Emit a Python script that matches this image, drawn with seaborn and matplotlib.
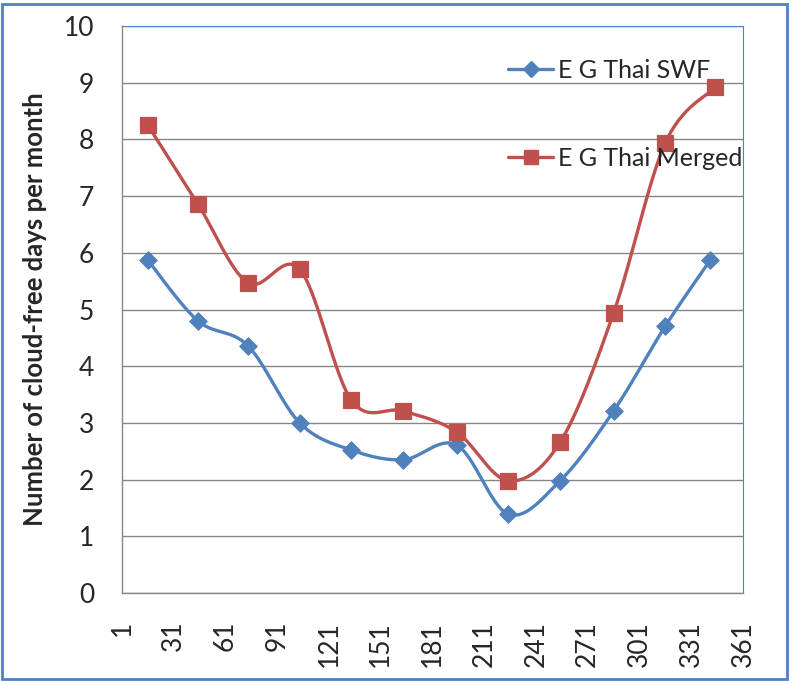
import numpy as np
import pandas as pd
import matplotlib
matplotlib.use("Agg")
import matplotlib.pyplot as plt
import seaborn as sns
from matplotlib.lines import Line2D
from matplotlib.patches import Rectangle

# data (day of year, cloud-free days per month)
swf_day = [16, 45, 74, 104, 134, 164, 195, 225, 255, 286, 316, 342]
swf_val = [5.87, 4.80, 4.36, 3.00, 2.52, 2.35, 2.61, 1.39, 1.98, 3.21, 4.71, 5.87]
mrg_day = [16, 45, 74, 104, 134, 164, 195, 225, 255, 286, 316, 345]
mrg_val = [8.25, 6.86, 5.47, 5.71, 3.40, 3.21, 2.84, 1.98, 2.66, 4.94, 7.94, 8.92]
x_ticks = list(range(1, 362, 30))
y_ticks = list(range(0, 11))

blue = "#4F81BD"
red = "#C0504D"


def smooth(xs, ys, n=30):
    # Excel-like smoothed line: Catmull-Rom through the points
    p = np.column_stack([xs, ys]).astype(float)
    p = np.vstack([p[0], p, p[-1]])
    out = []
    for i in range(1, len(p) - 2):
        p0, p1, p2, p3 = p[i - 1], p[i], p[i + 1], p[i + 2]
        for t in np.linspace(0, 1, n, endpoint=False):
            t2, t3 = t * t, t * t * t
            out.append(0.5 * ((2 * p1) + (-p0 + p2) * t
                              + (2 * p0 - 5 * p1 + 4 * p2 - p3) * t2
                              + (-p0 + 3 * p1 - 3 * p2 + p3) * t3))
    out.append(p[-2])
    out = np.array(out)
    return out[:, 0], out[:, 1]


sns.set_style("white")
plt.rcParams['font.family'] = ['Lato', 'DejaVu Sans']

fig = plt.figure(figsize=(7.95, 6.81), dpi=100)
ax = fig.add_axes([122 / 795, 88 / 681, 621 / 795, 567 / 681])

sx, sy = smooth(swf_day, swf_val)
mx, my = smooth(mrg_day, mrg_val)
sns.lineplot(x=sx, y=sy, sort=False, color=blue, lw=2.4, ax=ax)
sns.lineplot(x=mx, y=my, sort=False, color=red, lw=2.4, ax=ax)
sns.scatterplot(x=swf_day, y=swf_val, marker="D", s=80, color=blue,
                edgecolor=blue, ax=ax, zorder=5)
sns.scatterplot(x=mrg_day, y=mrg_val, marker="s", s=120, color=red,
                edgecolor=red, ax=ax, zorder=5)

ax.set_xlim(1, 361)
ax.set_ylim(0, 10)
ax.set_xticks(x_ticks)
ax.set_yticks(y_ticks)
ax.set_xticklabels([str(v) for v in x_ticks], rotation=90, fontsize=19)
ax.set_yticklabels([str(v) for v in y_ticks], fontsize=19)
ax.tick_params(axis="y", length=0, pad=20)
ax.tick_params(axis="x", length=0, pad=20)
ax.yaxis.grid(True, color="#868686", lw=1)
ax.xaxis.grid(False)
ax.set_axisbelow(True)
for side in ["left", "bottom"]:
    ax.spines[side].set_color("#868686")
    ax.spines[side].set_linewidth(1)
for side in ["top", "right"]:
    ax.spines[side].set_color(blue)
    ax.spines[side].set_linewidth(0.8)

ax.set_ylabel("Number of cloud-free days per month", fontsize=18.5,
              fontweight="bold", labelpad=12)

handles = [
    Line2D([], [], color=blue, lw=2.4, marker="D", markersize=8),
    Line2D([], [], color=red, lw=2.4, marker="s", markersize=10),
]
fig.legend(handles, ["E G Thai SWF", "E G Thai Merged"], loc="upper left",
           bbox_to_anchor=(508 / 795, 1 - 59 / 681), frameon=False,
           fontsize=18, labelspacing=2.6, handlelength=1.8,
           handletextpad=0.2, borderpad=0, borderaxespad=0)

fig.patches.append(Rectangle((2 / 795, 2 / 681), 785 / 795, 675 / 681,
                             transform=fig.transFigure, fill=False,
                             edgecolor=blue, lw=2))

fig.savefig("out.png", dpi=100)
